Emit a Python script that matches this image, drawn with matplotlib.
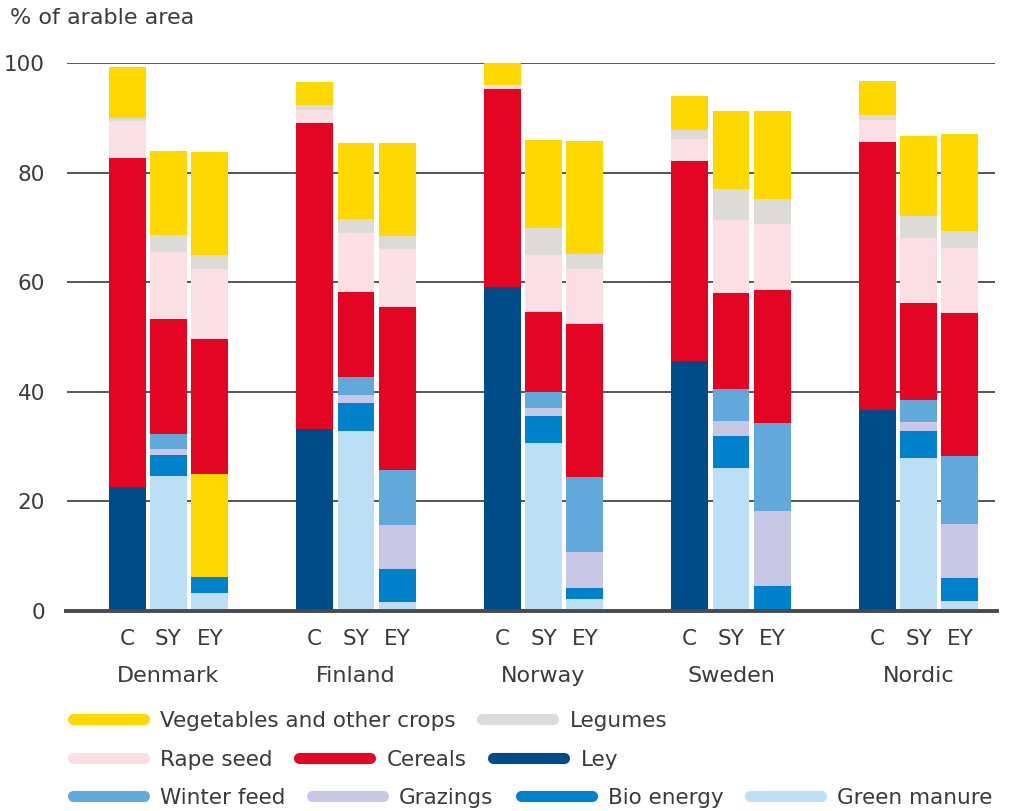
import matplotlib
matplotlib.use('Agg')
import matplotlib.pyplot as plt
from matplotlib.lines import Line2D
import numpy as np

# Data (% of arable area), bars per country: C, SY, EY
countries = ['Denmark', 'Finland', 'Norway', 'Sweden', 'Nordic']
scenarios = ['C', 'SY', 'EY']

green_manure = [0, 24.6, 3.2, 0, 32.8, 1.6, 0, 30.6, 2.1, 0, 26.0, 0, 0, 27.9, 1.7]
bio_energy = [0, 3.8, 2.9, 0, 5.1, 6.0, 0, 4.9, 2.0, 0, 5.9, 4.5, 0, 4.9, 4.2]
grazings = [0, 1.1, 0, 0, 1.5, 8.0, 0, 1.5, 6.6, 0, 2.7, 13.7, 0, 1.6, 9.9]
winter_feed = [0, 2.7, 0, 0, 3.2, 10.1, 0, 2.9, 13.7, 0, 5.8, 16.0, 0, 4.0, 12.4]
ley = [22.6, 0, 0, 33.2, 0, 0, 59.1, 0, 0, 45.6, 0, 0, 36.7, 0, 0]
other_yellow = [0, 0, 18.8, 0, 0, 0, 0, 0, 0, 0, 0, 0, 0, 0, 0]
cereals = [60.0, 21.0, 24.7, 55.8, 15.6, 29.7, 36.1, 14.6, 28.0, 36.5, 17.6, 24.3, 48.9, 17.8, 26.1]
rape_seed = [6.8, 12.3, 12.8, 2.4, 10.8, 10.6, 0.7, 10.4, 10.0, 4.0, 13.3, 12.1, 4.0, 11.8, 11.9]
legumes = [0.6, 3.1, 2.5, 1.0, 2.5, 2.4, 0, 5.0, 2.7, 1.7, 5.7, 4.6, 0.9, 4.1, 3.1]
vegetables = [9.3, 15.3, 18.8, 4.1, 13.9, 17.0, 4.1, 16.0, 20.6, 6.2, 14.2, 16.0, 6.3, 14.6, 17.7]

yticks = [0, 20, 40, 60, 80, 100]

# stacking order bottom -> top
stack = [
    ('Green manure', green_manure, '#BDDFF5'),
    ('Bio energy', bio_energy, '#0081CB'),
    ('Grazings', grazings, '#C8C8E6'),
    ('Winter feed', winter_feed, '#62A9DB'),
    ('Ley', ley, '#004C89'),
    (None, other_yellow, '#FFD800'),
    ('Cereals', cereals, '#E30521'),
    ('Rape seed', rape_seed, '#FBDFE4'),
    ('Legumes', legumes, '#DDDBD7'),
    ('Vegetables and other crops', vegetables, '#FFD800'),
]
colors = {name: c for name, _, c in stack if name}

plt.rcParams['font.family'] = ['DejaVu Sans']
text_col = '#3a3a3a'

fig = plt.figure(figsize=(10.22, 8.11), dpi=100)
ax = fig.add_axes([0.0656, 0.2472, 0.908, 0.6751])

offset = 0.221
width = 0.197
x = np.array([g + (i - 1) * offset for g in range(len(countries)) for i in range(len(scenarios))])

bottom = np.zeros(len(x))
for name, vals, col in stack:
    vals = np.array(vals, dtype=float)
    ax.bar(x, vals, width, bottom=bottom, color=col, linewidth=0, zorder=3)
    bottom += vals

ax.set_ylim(0, 100)
ax.set_xlim(-0.541, 4.408)
for s in ax.spines.values():
    s.set_visible(False)
for yv in yticks[1:]:
    ax.axhline(yv, color='#555555', lw=1.4, zorder=1)
ax.plot([-0.555, 4.43], [0, 0], color='#4a4a4a', lw=2.8, zorder=4,
        clip_on=False, solid_capstyle='butt')

ax.set_yticks(yticks)
ax.set_yticklabels([str(v) for v in yticks], fontsize=15.5, color=text_col)
ax.tick_params(axis='y', length=0, pad=16)
ax.set_xticks(x)
ax.set_xticklabels(scenarios * len(countries), fontsize=15.5, color=text_col)
ax.tick_params(axis='x', length=0, pad=13)

for g, name in enumerate(countries):
    ax.text(g, -11.9, name, ha='center', va='center', fontsize=16,
            color=text_col, transform=ax.transData)

fig.text(0.010, 0.978, '% of arable area', fontsize=16, color=text_col,
         ha='left', va='center')

# legend in three rows
rows = [
    ['Vegetables and other crops', 'Legumes'],
    ['Rape seed', 'Cereals', 'Ley'],
    ['Winter feed', 'Grazings', 'Bio energy', 'Green manure'],
]
row_y = [1 - 721 / 811, 1 - 760 / 811, 1 - 798 / 811]
for names, yy in zip(rows, row_y):
    handles = [Line2D([0], [0], color=colors[n], lw=8, solid_capstyle='round') for n in names]
    leg = fig.legend(handles, names, loc='center left', bbox_to_anchor=(0.071, yy),
                     ncol=len(names), frameon=False, fontsize=15.5,
                     handlelength=3.3, handletextpad=0.75, columnspacing=1.25,
                     borderpad=0, borderaxespad=0)
    for t in leg.get_texts():
        t.set_color(text_col)

fig.savefig('out.png', dpi=100)
